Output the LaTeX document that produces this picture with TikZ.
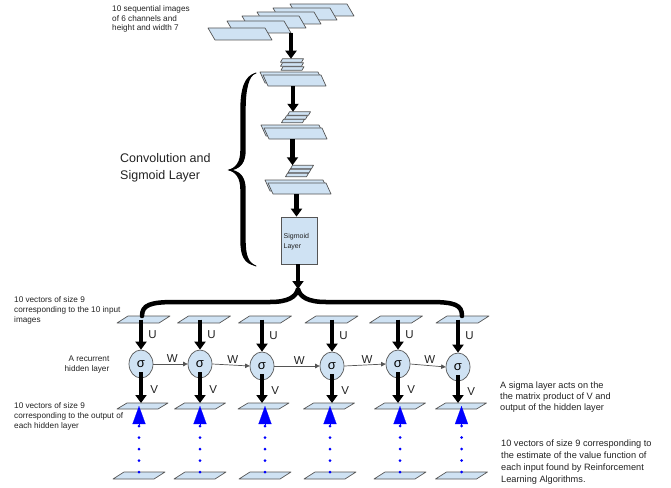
\documentclass[tikz,border=0pt]{standalone}
\usepackage{fontspec}
\setmainfont{Liberation Sans}
\usetikzlibrary{arrows.meta,shapes.geometric,calc}
\definecolor{lb}{HTML}{CFE2F3}
\definecolor{edge}{HTML}{555555}
\definecolor{txt}{HTML}{222222}
\newcommand\para[6]{%
  \node[inner sep=0pt,outer sep=0pt,minimum width=#4pt,minimum height=#5pt] (#1) at (#2,#3) {};
  \draw[parafill] ([xshift={-0.5*(#6)*1pt}]#1.south west) -- ([xshift={-0.5*(#6)*1pt}]#1.south east)
     -- ([xshift={0.5*(#6)*1pt}]#1.north east) -- ([xshift={0.5*(#6)*1pt}]#1.north west) -- cycle;}
\begin{document}
\begin{tikzpicture}[x=1pt,y=-1pt,
  parafill/.style={fill=lb,draw=edge,line width=0.7pt,line join=round},
  big/.style={draw=black,line width=4.5pt,-{Triangle[width=11pt,length=8pt]}},
  thinarrow/.style={draw=edge,line width=0.7pt,-{Triangle[width=4.5pt,length=4.5pt]}},
  sig/.style={ellipse,draw=edge,fill=lb,line width=0.7pt,minimum width=24pt,minimum height=28pt,inner sep=0pt,font=\fontsize{13}{13}\selectfont},
  lbl/.style={font=\fontsize{11.5}{11.5}\selectfont,text=txt,inner sep=0pt},
  smalltxt/.style={font=\fontsize{8.2}{10}\selectfont,text=txt,inner sep=0pt,align=left},
  righttxt/.style={font=\fontsize{9.2}{11}\selectfont,text=txt,inner sep=0pt,align=left},
  bracepath/.style={draw=black,line cap=round,line join=round},
  bluedots/.style={draw=blue,line width=3pt,line cap=round,dash pattern=on 0pt off 11.5pt},
  bluetip/.style={draw=blue,line width=0.1pt,-{Triangle[width=13pt,length=18pt]},fill=blue}]
\useasboundingbox (0,0) rectangle (671,487);

% ---------- top stack of images
\para{im6}{322}{10}{57}{12}{-7}
\para{im5}{305}{14}{57}{12}{-7}
\para{im4}{289}{18}{57}{12}{-7}
\para{im3}{274}{22}{57}{12}{-7}
\para{im2}{259}{27}{57}{12}{-7}
\para{im1}{240}{34}{57}{12}{-7}

% ---------- block 2
\para{c2a}{292}{60.5}{21}{3.5}{2}
\para{c2b}{292}{64.5}{21}{3.5}{2}
\para{c2c}{292.5}{68.5}{21}{3.5}{2}
\para{L2a}{291.5}{77.5}{58}{11}{-5}
\para{L2b}{294.5}{80.5}{58}{11}{-5}

% ---------- block 3
\para{c3a}{299}{113.5}{21}{3.5}{2}
\para{c3b}{296}{117.5}{21}{3.5}{2}
\para{c3c}{293}{121}{21}{3.5}{2}
\para{L3a}{292.5}{130.5}{58}{11}{-5}
\para{L3b}{295.5}{133.5}{58}{11}{-5}

% ---------- block 4
\para{c4a}{302}{167}{21}{3.5}{2}
\para{c4b}{299.5}{171}{21}{3.5}{2}
\para{c4c}{297}{175}{21}{3.5}{2}
\para{L4a}{296.5}{185.5}{58}{11}{-5}
\para{L4b}{299.5}{188.5}{58}{11}{-5}

% ---------- sigmoid box
\node[draw=edge,fill=lb,line width=0.7pt,minimum width=36pt,minimum height=47pt,inner sep=0pt] (box) at (299,240.5) {};
\node[font=\fontsize{7}{10}\selectfont,text=txt,align=left,inner sep=0pt,anchor=west] (boxt) at (283.5,242) {Sigmoid\\Layer};

% arrows in the convolution column
\coordinate (a1) at (291,33);
\draw[big] (a1) -- (a1 |- c2a.north);
\draw[big] (c3c |- L2b.south) -- (c3c |- c3a.north);
\draw[big] (L3a |- L3b.south) -- (L3a |- c4a.north);
\draw[big] (L4a |- L4b.south) -- (L4a |- box.north);
\coordinate (bt) at (298,289);
\draw[big] (bt |- box.south) -- (bt);

% ---------- left vertical brace (calligraphic, filled)
\fill[black] (256,73) .. controls (244,75) and (240.3,90) .. (240.3,110) -- (240.3,150)
  .. controls (240.3,162) and (236,168) .. (227.5,170)
  .. controls (236,172) and (240.3,178) .. (240.3,190) -- (240.3,240)
  .. controls (240.3,256) and (244,264) .. (256,266)
  .. controls (248.5,262) and (245.7,256) .. (245.7,240) -- (245.7,190)
  .. controls (245.7,178) and (241.5,172.5) .. (233,170)
  .. controls (241.5,167.5) and (245.7,162) .. (245.7,150) -- (245.7,110)
  .. controls (245.7,90) and (248.5,76) .. (256,73) -- cycle;
\draw[bracepath,line width=0.9pt] (256,73) .. controls (246,76) and (243,90) .. (243,110) -- (243,150)
  .. controls (243,162) and (239,168) .. (229,170) .. controls (239,172) and (243,178) .. (243,190)
  -- (243,240) .. controls (243,256) and (246,262) .. (256,266);

% ---------- recurrent part
\foreach \n/\x in {1/143.5,2/204,3/265,4/331.5,5/396,6/462.5}{\para{i\n}{\x}{319.5}{42}{7}{11}}
\foreach \n/\x in {1/142.5,2/200,3/263.5,4/329,5/400,6/461}{\para{o\n}{\x}{406}{41}{6}{10}}
\foreach \n/\x in {1/139,2/200,3/265,4/330,5/400,6/461.5}{\para{b\n}{\x}{475.5}{41}{7}{11}}

% horizontal brace
\draw[bracepath,line width=4.5pt] (i1.north -| 142,0) .. controls (142,305) and (150,302) .. (175,302) -- (270,302)
  .. controls (288,302) and (296,297) .. (bt) .. controls (300,297) and (308,302) .. (326,302) -- (430,302)
  .. controls (455,302) and (462,305) .. (i6.north -| 462,0);

\node[sig] (s1) at (141,364) {σ};
\node[sig] (s2) at (200,364) {σ};
\node[sig] (s3) at (262,366) {σ};
\node[sig] (s4) at (332,366) {σ};
\node[sig] (s5) at (398,364) {σ};
\node[sig] (s6) at (458,367) {σ};

\foreach \n in {1,...,6}{
  \draw[big] (s\n |- i\n.center) -- node[lbl,anchor=west,xshift=5pt,pos=0.5]{U} (s\n.north);
  \draw[big,shorten <=-6pt] (s\n.south) -- node[lbl,anchor=west,xshift=7pt,pos=0.45]{V} (s\n |- o\n.north);
  \draw[bluedots] (b\n.north) -- ($(b\n |- o\n.center)+(0,20)$);
  \draw[bluetip] ($(b\n |- o\n.center)+(0,18)$) -- (b\n |- o\n.center);
}
\foreach \a/\b in {1/2,2/3,3/4,4/5,5/6}{
  \draw[thinarrow] (s\a.east) -- node[lbl,anchor=south,pos=0.55,yshift=1.5pt]{W} (s\b.west);
}

% ---------- texts
\node[smalltxt,anchor=north west,font=\fontsize{8.2}{9.5}\selectfont] (t1) at (112,5.5) {10 sequential images\\of 6 channels and\\height and width 7};
\node[font=\fontsize{12.5}{17}\selectfont,text=txt,inner sep=0pt,align=left,anchor=north west] (t2) at (120,153) {Convolution and\\Sigmoid Layer};
\node[smalltxt,anchor=north west] (t3) at (14,296.5) {10 vectors of size 9\\corresponding to the 10 input\\images};
\node[smalltxt,anchor=north east,align=right] (t4) at (109.5,355.5) {A recurrent\\hidden layer};
\node[smalltxt,anchor=north west] (t5) at (14,402.5) {10 vectors of size 9\\corresponding to the output of\\each hidden layer};
\node[righttxt,anchor=north west] (t6) at (500,382) {A sigma layer acts on the\\the matrix product of V and\\output of the hidden layer};
\node[righttxt,anchor=north west,font=\fontsize{9.2}{12}\selectfont] (t7) at (501,439.5) {10 vectors of size 9 corresponding to\\the estimate of the value function of\\each input found by Reinforcement\\Learning Algorithms.};
\end{tikzpicture}
\end{document}
